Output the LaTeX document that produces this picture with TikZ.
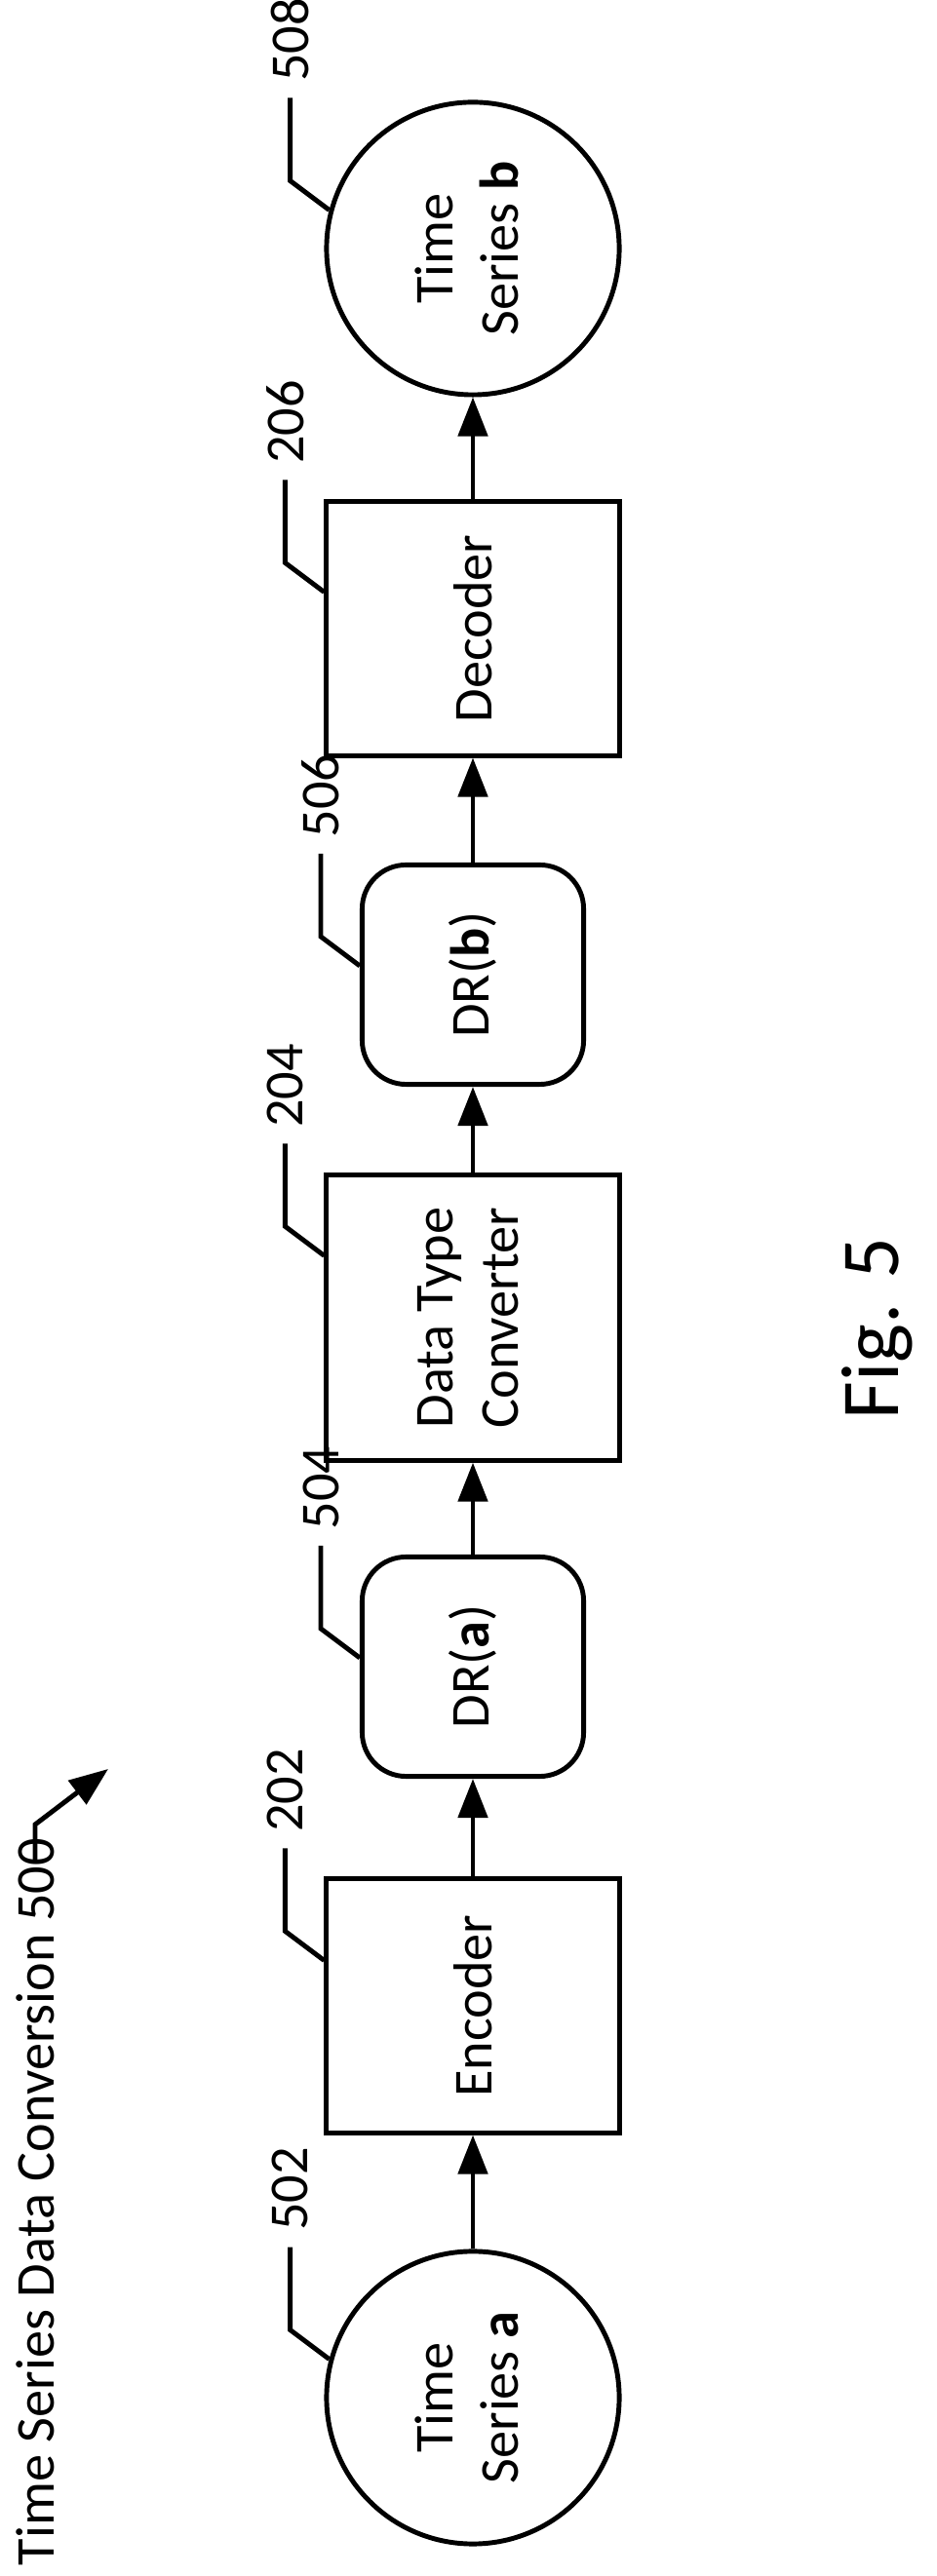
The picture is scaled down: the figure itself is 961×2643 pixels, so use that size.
\documentclass[tikz,border=0pt]{standalone}
\usepackage{fontspec}
\setmainfont{Carlito}
\usetikzlibrary{positioning,arrows.meta,calc}

\begin{document}
\begin{tikzpicture}[x=0.01cm, y=0.01cm, >={Triangle[length=4mm,width=3mm]}, line width=1.4pt,
  every node/.style={font=\fontsize{16}{19}\selectfont}]
\tikzstyle{blk}=[rectangle, draw, minimum width=3cm, minimum height=2.6cm, align=center]
\tikzstyle{dr}=[rectangle, rounded corners=0.45cm, draw, minimum width=2.27cm, minimum height=2.25cm, align=center]
\tikzstyle{ts}=[circle, draw, minimum size=3cm, inner sep=0pt, align=center]
\tikzstyle{txt}=[rotate=90]
\tikzstyle{ref}=[rotate=90, anchor=west, inner sep=4pt]
\useasboundingbox (0,0) rectangle (961,2643);

% Vertical pipeline, text turned on its side
\node[ts] (tsa) at (485,183) {\rotatebox{90}{\begin{tabular}{c}Time\\Series \textbf{a}\end{tabular}}};
\node[blk] (enc) at (485,585) {\rotatebox{90}{Encoder}};
\node[dr] (dra) at (485,933) {\rotatebox{90}{DR(\textbf{a})}};
\node[blk] (dtc) at (485,1291) {\rotatebox{90}{\begin{tabular}{c}Data Type\\Converter\end{tabular}}};
\node[dr] (drb) at (485,1643) {\rotatebox{90}{DR(\textbf{b})}};
\node[blk] (dec) at (485,1998) {\rotatebox{90}{Decoder}};
\node[ts] (tsb) at (485,2388) {\rotatebox{90}{\begin{tabular}{c}Time\\Series \textbf{b}\end{tabular}}};

% Edges
\draw[->] (tsa) -- (enc);
\draw[->] (enc) -- (dra);
\draw[->] (dra) -- (dtc);
\draw[->] (dtc) -- (drb);
\draw[->] (drb) -- (dec);
\draw[->] (dec) -- (tsb);

% Reference numerals
\draw (tsa.165) -- ++(-40,30) -- ++(0,85) node[ref] {502};
\draw ($(enc.north west)+(0,-86)$) -- ++(-40,30) -- ++(0,85) node[ref] {202};
\draw ($(dra.north west)+(0,-106)$) -- ++(-40,30) -- ++(0,85) node[ref] {504};
\draw ($(dtc.north west)+(0,-85)$) -- ++(-40,30) -- ++(0,85) node[ref] {204};
\draw ($(drb.north west)+(0,-106)$) -- ++(-40,30) -- ++(0,85) node[ref] {506};
\draw ($(dec.north west)+(0,-95)$) -- ++(-40,30) -- ++(0,85) node[ref] {206};
\draw (tsb.165) -- ++(-40,30) -- ++(0,85) node[ref] {508};

% Title and figure number
\node[txt, inner sep=0pt] (title) at (36,384) {Time Series Data Conversion 500};
\coordinate (titletip) at (111,828);
\draw[->] (36,733) -- ++(0,38) -- (titletip);
\node[txt, font=\fontsize{24}{28}\selectfont] (fig) at (900,1280) {Fig. 5};
\end{tikzpicture}
\end{document}
